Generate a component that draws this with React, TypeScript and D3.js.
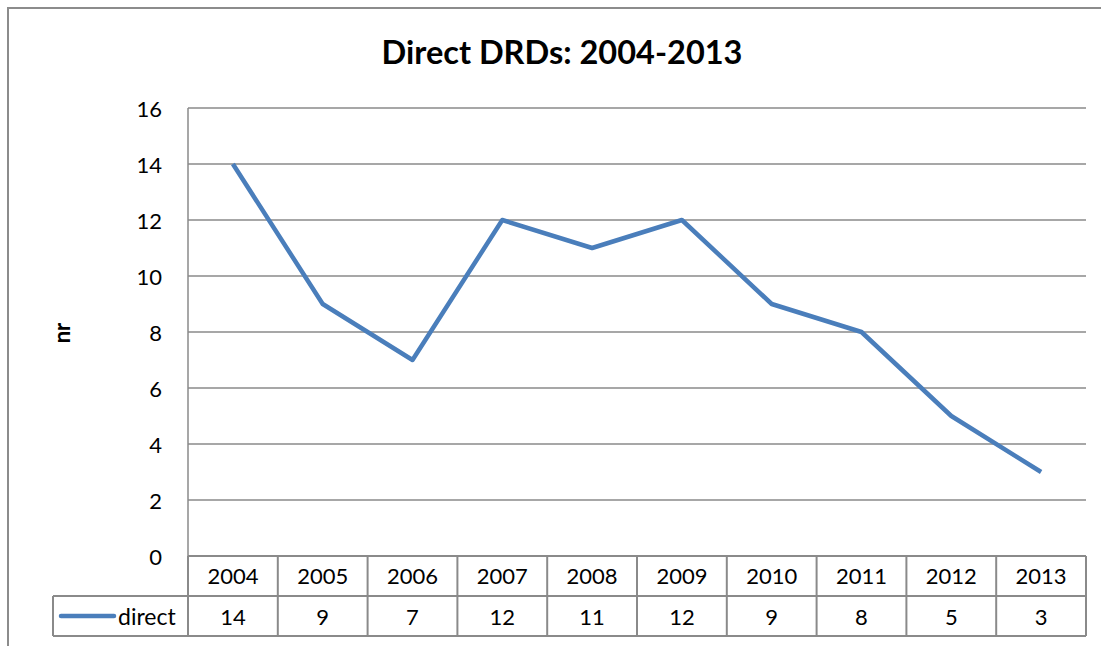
import React from "react";
import * as d3 from "d3";

const years = ["2004","2005","2006","2007","2008","2009","2010","2011","2012","2013"];
const direct = [14, 9, 7, 12, 11, 12, 9, 8, 5, 3];
const yTicks = [0, 2, 4, 6, 8, 10, 12, 14, 16];
const seriesName = "direct";
const title = "Direct DRDs: 2004-2013";
const yLabel = "nr";

export default function App() {
  const W = 1101, H = 646;
  const left = 188, right = 1086, top = 108, bottom = 556;
  const rowH = 40;
  const legendLeft = 53;
  const font = "Lato, 'Open Sans', sans-serif";
  const fs = 22;
  const x = d3.scaleBand().domain(years).range([left, right]);
  const y = d3.scaleLinear().domain([0, 16]).range([bottom, top]);
  const line = d3.line<number>().x((_, i) => x(years[i])! + x.bandwidth() / 2).y(d => y(d));
  const grid = "#8a8a8a";
  return (
    <svg width={W} height={H} style={{ position: "absolute", left: 0, top: 0 }} fontFamily={font}>
      <rect x={0} y={0} width={W} height={H} fill="#fff" />
      <rect x={8} y={8} width={W + 20} height={H + 20} fill="none" stroke="#8c8c8c" strokeWidth={2} />
      <text x={562} y={64} textAnchor="middle" fontSize={32.5} fontWeight="bold" fill="#000">{title}</text>
      <text transform={`translate(70,333) rotate(-90)`} textAnchor="middle" fontSize={22} fontWeight="bold" fill="#000">{yLabel}</text>
      {yTicks.map(t => (
        <g key={t}>
          {t > 0 && <line x1={left} x2={right} y1={y(t)} y2={y(t)} stroke={grid} strokeWidth={1.5} />}
          <text x={162} y={y(t) + 9} textAnchor="end" fontSize={fs} fill="#000">{t}</text>
        </g>
      ))}
      <line x1={left} x2={left} y1={top} y2={bottom} stroke={grid} strokeWidth={1.5} />
      {/* table */}
      <line x1={left} x2={right} y1={bottom} y2={bottom} stroke={grid} strokeWidth={2} />
      <line x1={legendLeft} x2={right} y1={bottom + rowH} y2={bottom + rowH} stroke={grid} strokeWidth={2} />
      <line x1={legendLeft} x2={right} y1={bottom + 2 * rowH} y2={bottom + 2 * rowH} stroke={grid} strokeWidth={2} />
      <line x1={legendLeft} x2={legendLeft} y1={bottom + rowH} y2={bottom + 2 * rowH} stroke={grid} strokeWidth={2} />
      {years.map((yr, i) => (
        <g key={yr}>
          <line x1={x(yr)!} x2={x(yr)!} y1={bottom} y2={bottom + 2 * rowH} stroke={grid} strokeWidth={2} />
          <text x={x(yr)! + x.bandwidth() / 2} y={bottom + 28} textAnchor="middle" fontSize={fs} fill="#000">{yr}</text>
          <text x={x(yr)! + x.bandwidth() / 2} y={bottom + rowH + 29} textAnchor="middle" fontSize={fs} fill="#000">{direct[i]}</text>
        </g>
      ))}
      <line x1={right} x2={right} y1={bottom} y2={bottom + 2 * rowH} stroke={grid} strokeWidth={2} />
      <line x1={61} x2={114} y1={bottom + rowH + 20} y2={bottom + rowH + 20} stroke="#4a7ebb" strokeWidth={4.5} strokeLinecap="round" />
      <text x={118} y={bottom + rowH + 29} fontSize={23} fill="#000">{seriesName}</text>
      <path d={line(direct)!} fill="none" stroke="#4a7ebb" strokeWidth={4.5} strokeLinejoin="round" />
    </svg>
  );
}
